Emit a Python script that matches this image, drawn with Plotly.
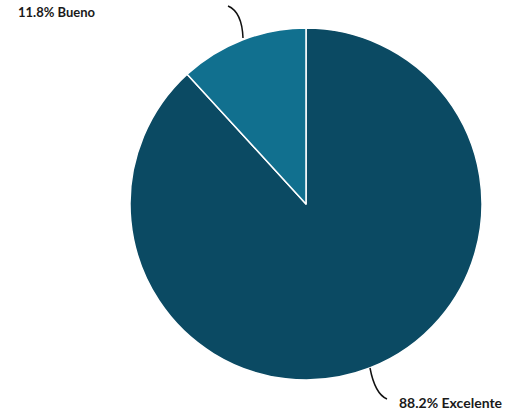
import plotly.graph_objects as go

categories = ["Excelente", "Bueno"]
values = [88.2, 11.8]
colors = ["#0b4a63", "#11708f"]

W, H = 512, 414
def px(x): return x / W
def py(y): return 1 - y / H

fig = go.Figure(go.Pie(
    labels=categories, values=values, sort=False, direction="clockwise",
    rotation=0, marker=dict(colors=colors, line=dict(color="white", width=1.5)),
    textinfo="none", hoverinfo="label+percent", showlegend=False,
    domain=dict(x=[px(130), px(482)], y=[py(380), py(28)]),
))

labels = {c: f"{v}% {c}" for v, c in zip(values, categories)}
fig.add_annotation(x=px(16), y=py(12), xref="paper", yref="paper", text=f"<b>{labels['Bueno']}</b>",
                   showarrow=False, xanchor="left", yanchor="middle",
                   font=dict(family="Lato, Open Sans, sans-serif", size=13, color="#1a1a1a"))
fig.add_annotation(x=px(397), y=py(402), xref="paper", yref="paper", text=f"<b>{labels['Excelente']}</b>",
                   showarrow=False, xanchor="left", yanchor="middle",
                   font=dict(family="Lato, Open Sans, sans-serif", size=14, color="#1a1a1a"))

def path(pts):
    (x0, y0), (cx, cy), (x1, y1) = pts
    return f"M {px(x0)} {py(y0)} Q {px(cx)} {py(cy)} {px(x1)} {py(y1)}"

fig.add_shape(type="path", xref="paper", yref="paper",
              path=path([(228, 6), (242, 12), (243, 38)]),
              line=dict(color="#111111", width=1.5))
fig.add_shape(type="path", xref="paper", yref="paper",
              path=path([(370, 368), (375, 394), (387, 399)]),
              line=dict(color="#111111", width=1.5))

fig.update_layout(width=W, height=H, margin=dict(l=0, r=0, t=0, b=0),
                  paper_bgcolor="white", plot_bgcolor="white")
fig.write_html("out.html", config={"displayModeBar": False},
               post_script="document.body.style.margin='0';")
